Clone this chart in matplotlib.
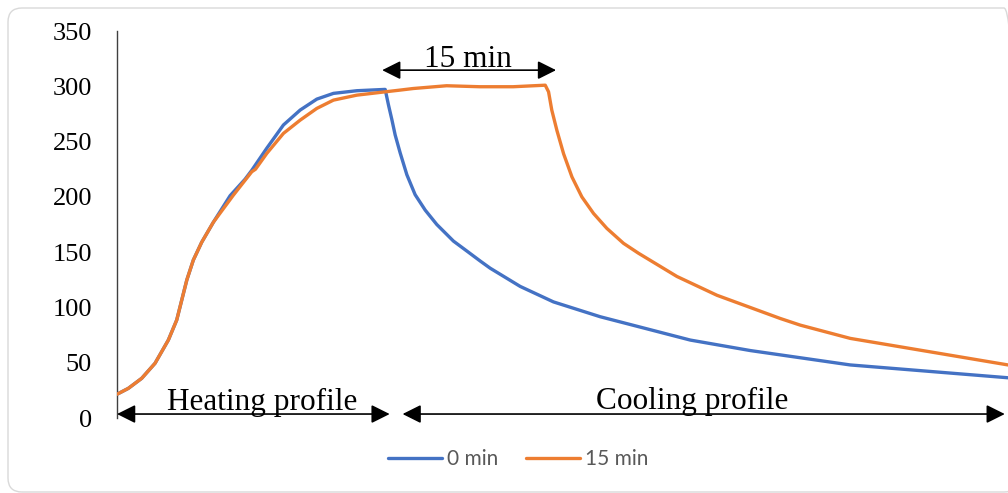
import matplotlib
matplotlib.use("Agg")
import matplotlib.pyplot as plt
from matplotlib.patches import FancyBboxPatch

# time in minutes, temperature readings
t_0min = [0.0, 1.05, 2.3, 3.54, 4.78, 5.56, 6.03, 6.5, 7.11, 7.89, 8.97, 10.53, 11.93,
          12.55, 13.95, 15.5, 17.06, 18.61, 20.16, 22.34, 24.98,
          25.29, 25.6, 25.91, 26.37, 27.0, 27.77, 28.71, 29.79, 31.34, 32.59, 33.83,
          34.76, 37.56, 40.66, 45.01, 53.4, 59.0, 68.3, 83.0]
temp_0min = [21.5, 26.8, 35.9, 49.5, 70.5, 88.6, 106.7, 124.8, 142.9, 159, 177, 201, 216,
             224, 244, 265, 278.5, 288.4, 293.6, 296, 297.2,
             283, 270, 256, 240, 220, 202, 188, 175, 160, 151, 142,
             135.5, 119, 105, 91.6, 70.5, 61, 48, 36.4]

t_15min = [0.0, 1.05, 2.3, 3.54, 4.78, 5.56, 6.03, 6.5, 7.11, 7.89, 8.97, 10.84, 12.55,
           12.9, 13.95, 15.5, 17.06, 18.61, 20.16, 22.34, 24.98, 26.4, 27.6, 30.7,
           33.8, 36.9, 39.89,
           40.2, 40.5, 40.98, 41.6, 42.38, 43.3, 44.39, 45.63, 47.18, 48.58, 52.16,
           55.89, 61.79, 63.65, 68.31, 83.0]
temp_15min = [21.5, 26.8, 35.9, 49.5, 70.5, 88.6, 106.7, 124.8, 142.9, 159, 177, 201.6, 222.7,
              225, 239.3, 257.4, 269.4, 280, 287.5, 292, 295, 296.6, 298, 300.5,
              299.6, 299.6, 301,
              295, 278.5, 260, 239, 218, 200, 185, 171.5, 158, 149, 128,
              111, 90, 84, 72, 48]

series_labels = ["0 min", "15 min"]
yticks = [0, 50, 100, 150, 200, 250, 300, 350]

BLUE = "#4472C4"
ORANGE = "#ED7D31"
SERIF = "Liberation Serif"

fig = plt.figure(figsize=(10.08, 4.93), dpi=100)

# rounded chart-area frame
frame = FancyBboxPatch((8, 1), 1010, 484, boxstyle="round,pad=0,rounding_size=14",
                       transform=None, facecolor="none", edgecolor="#d9d9d9",
                       linewidth=1.0, zorder=-1)
fig.patches.append(frame)

ax = fig.add_axes([0.1161, 0.1521, 0.8839, 0.785])
ax.patch.set_alpha(0)
l0, = ax.plot(t_0min, temp_0min, color=BLUE, lw=2.4, solid_capstyle="round",
              solid_joinstyle="round", zorder=3)
l15, = ax.plot(t_15min, temp_15min, color=ORANGE, lw=2.4, solid_capstyle="round",
               solid_joinstyle="round", zorder=4)

ax.set_xlim(0, 83.0)
ax.set_ylim(0, 350)
ax.set_yticks(yticks)
ax.set_xticks([])
for s in ["top", "right", "bottom"]:
    ax.spines[s].set_visible(False)
ax.spines["left"].set_color("#404040")
ax.spines["left"].set_linewidth(1.0)
ax.tick_params(axis="y", length=0, pad=18, labelsize=19)
for lab in ax.get_yticklabels():
    lab.set_fontfamily(SERIF)

arrow = dict(arrowstyle="<|-|>,head_length=0.56,head_width=0.28", mutation_scale=20,
             shrinkA=0, shrinkB=0, color="black", lw=1.2)

# heating / cooling spans along the base, and the hold time at the top
ax.annotate("", xy=(0, 3.6), xytext=(25.4, 3.6), arrowprops=arrow, annotation_clip=False)
ax.annotate("", xy=(26.6, 3.6), xytext=(82.7, 3.6), arrowprops=arrow, annotation_clip=False)
ax.annotate("", xy=(24.7, 314.6), xytext=(40.9, 314.6), arrowprops=arrow, annotation_clip=False)

ax.text(13.5, 7.2, "Heating profile", ha="center", va="baseline", fontsize=22.5, family=SERIF)
ax.text(53.6, 8.6, "Cooling profile", ha="center", va="baseline", fontsize=22.5, family=SERIF)
ax.text(32.7, 317.8, "15 min", ha="center", va="baseline", fontsize=22.5, family=SERIF)

fig.legend([l0, l15], series_labels, loc="center", bbox_to_anchor=(0.514, 0.069), ncol=2,
           frameon=False, handlelength=2.6, handletextpad=0.25, columnspacing=1.3,
           prop={"family": "Lato", "size": 15}, labelcolor="#595959")

fig.savefig("out.png", dpi=100)
